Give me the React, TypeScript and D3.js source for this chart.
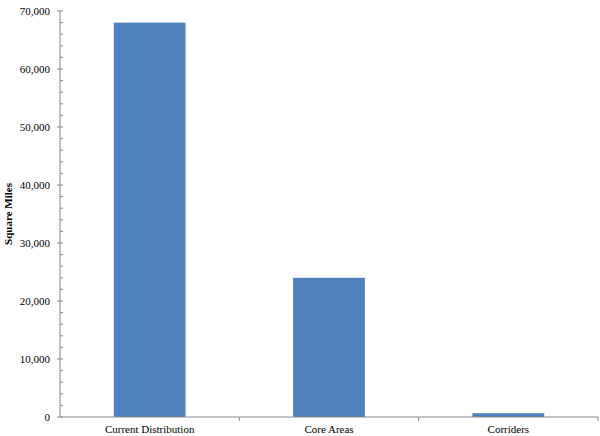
import React from "react";
import * as d3 from "d3";

const categories = ["Current Distribution", "Core Areas", "Corriders"];
const values = [68000, 24000, 650];
const yTicks = [0, 10000, 20000, 30000, 40000, 50000, 60000, 70000];

export default function App() {
  const W = 600, H = 436;
  const left = 60, right = 598, top = 11, bottom = 417;
  const x = d3.scaleBand<string>().domain(categories).range([left, right]).paddingInner(0.6).paddingOuter(0.3);
  const xOuter = d3.scaleBand<string>().domain(categories).range([left, right]);
  const y = d3.scaleLinear().domain([0, 70000]).range([bottom, top]);
  const minor = d3.range(0, 70001, 2000).filter((v) => v % 10000 !== 0);
  const fmt = d3.format(",");
  const font = "'Liberation Serif', 'Times New Roman', serif";
  return (
    <svg width={W} height={H} style={{ position: "absolute", left: 0, top: 0, background: "#fff" }}>
      {categories.map((c, i) => (
        <rect key={c} x={x(c)} y={y(values[i])} width={x.bandwidth()} height={bottom - y(values[i])} fill="#4f81bd" />
      ))}
      <line x1={left} x2={left} y1={top} y2={bottom} stroke="#888" />
      <line x1={left} x2={right} y1={bottom} y2={bottom} stroke="#888" />
      {yTicks.map((t) => (
        <g key={t}>
          <line x1={left - 3} x2={left + 3} y1={y(t)} y2={y(t)} stroke="#888" />
          <text x={left - 10} y={y(t)} dy="0.35em" textAnchor="end" fontFamily={font} fontSize={11} fill="#000">{fmt(t)}</text>
        </g>
      ))}
      {minor.map((t) => (
        <line key={t} x1={left} x2={left + 3} y1={y(t)} y2={y(t)} stroke="#888" />
      ))}
      {categories.map((c, i) => (
        <g key={c}>
          <line x1={(xOuter(c) ?? 0) + xOuter.bandwidth()} x2={(xOuter(c) ?? 0) + xOuter.bandwidth()} y1={bottom} y2={bottom + 4} stroke="#888" />
          <text x={(x(c) ?? 0) + x.bandwidth() / 2} y={bottom + 16} textAnchor="middle" fontFamily={font} fontSize={11} fill="#000">{c}</text>
        </g>
      ))}
      <text transform={`translate(12,${(top + bottom) / 2}) rotate(-90)`} textAnchor="middle" fontFamily={font} fontSize={11} fontWeight="bold" fill="#000">Square Miles</text>
    </svg>
  );
}
